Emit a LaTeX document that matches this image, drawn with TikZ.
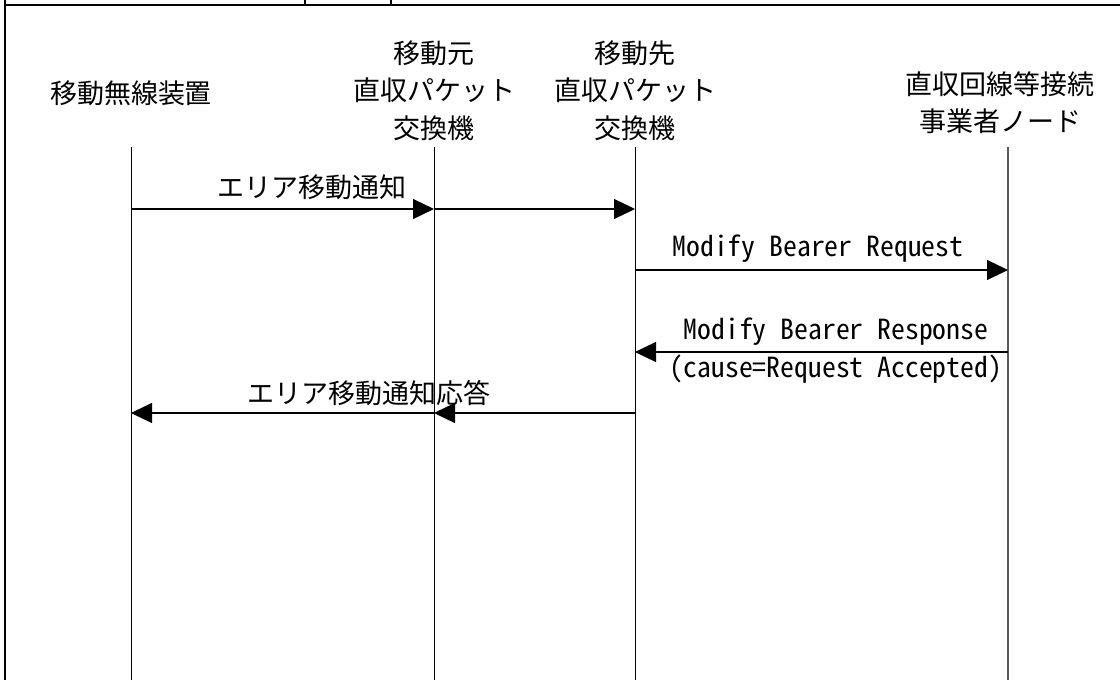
\documentclass[tikz,border=0pt]{standalone}
\usepackage{fontspec}
\setmainfont{Noto Sans CJK JP}
\newfontfamily\latinmono{Noto Sans CJK JP}[RawFeature=+hwid]
\usetikzlibrary{arrows.meta}
\begin{document}
\begin{tikzpicture}[x=1pt,y=-1pt,
  lbl/.style={font=\fontsize{27}{27}\selectfont, inner sep=0pt, anchor=center},
  mlbl/.style={font=\latinmono\fontsize{27.7}{27.7}\selectfont, inner sep=0pt, anchor=center},
  life/.style={line width=1pt, black},
  lifeg/.style={line width=2pt, black!65},
  msg/.style={line width=1.2pt, black, -{Triangle[length=21pt,width=20pt]}},
  framel/.style={line width=2.5pt, black}]
\useasboundingbox (0,0) rectangle (1120,680);
% frame
\draw[framel] (5,0) -- (5,680);
\draw[framel] (5,5) -- (1120,5);
\draw[framel] (305,0) -- (305,5);
\draw[framel] (391,0) -- (391,5);
% headers
\node[lbl] (h1) at (131,93) {移動無線装置};
\node[lbl] (h2a) at (434,53) {移動元};
\node[lbl] (h2b) at (434,90) {直収パケット};
\node[lbl] (h2c) at (434,128) {交換機};
\node[lbl] (h3a) at (635,53) {移動先};
\node[lbl] (h3b) at (635,90) {直収パケット};
\node[lbl] (h3c) at (635,128) {交換機};
\node[lbl] (h4a) at (1000,84) {直収回線等接続};
\node[lbl] (h4b) at (1000,121) {事業者ノード};
% lifelines
\coordinate (t1) at (131,147); \coordinate (b1) at (131,680);
\coordinate (t2) at (434,147); \coordinate (b2) at (434,680);
\coordinate (t3) at (635,147); \coordinate (b3) at (635,680);
\coordinate (t4) at (1008,147); \coordinate (b4) at (1008,680);
\draw[life] (t1) -- (b1);
\draw[life] (t2) -- (b2);
\draw[life] (t3) -- (b3);
\draw[lifeg] (t4) -- (b4);
% message points
\coordinate (m1a) at (131,209); \coordinate (m1b) at (434,209); \coordinate (m1c) at (635,209);
\coordinate (m2a) at (635,270); \coordinate (m2b) at (1008,270);
\coordinate (m3a) at (1008,352); \coordinate (m3b) at (635,352);
\coordinate (m4a) at (635,413); \coordinate (m4b) at (434,413); \coordinate (m4c) at (131,413);
\draw[msg] (m1a) -- (m1b);
\draw[msg] (m1b) -- (m1c);
\draw[msg] (m2a) -- (m2b);
\draw[msg] (m3a) -- (m3b);
\draw[msg] (m4a) -- (m4b);
\draw[msg] (m4b) -- (m4c);
% labels
\node[lbl] (l1) at (312,187) {エリア移動通知};
\node[mlbl] (l2) at (818,249) {Modify Bearer Request};
\node[mlbl] (l3) at (836,332) {Modify Bearer Response};
\node[mlbl] (l4) at (836,369) {(cause=Request Accepted)};
\node[lbl] (l5) at (369,393) {エリア移動通知応答};
\end{tikzpicture}
\end{document}
